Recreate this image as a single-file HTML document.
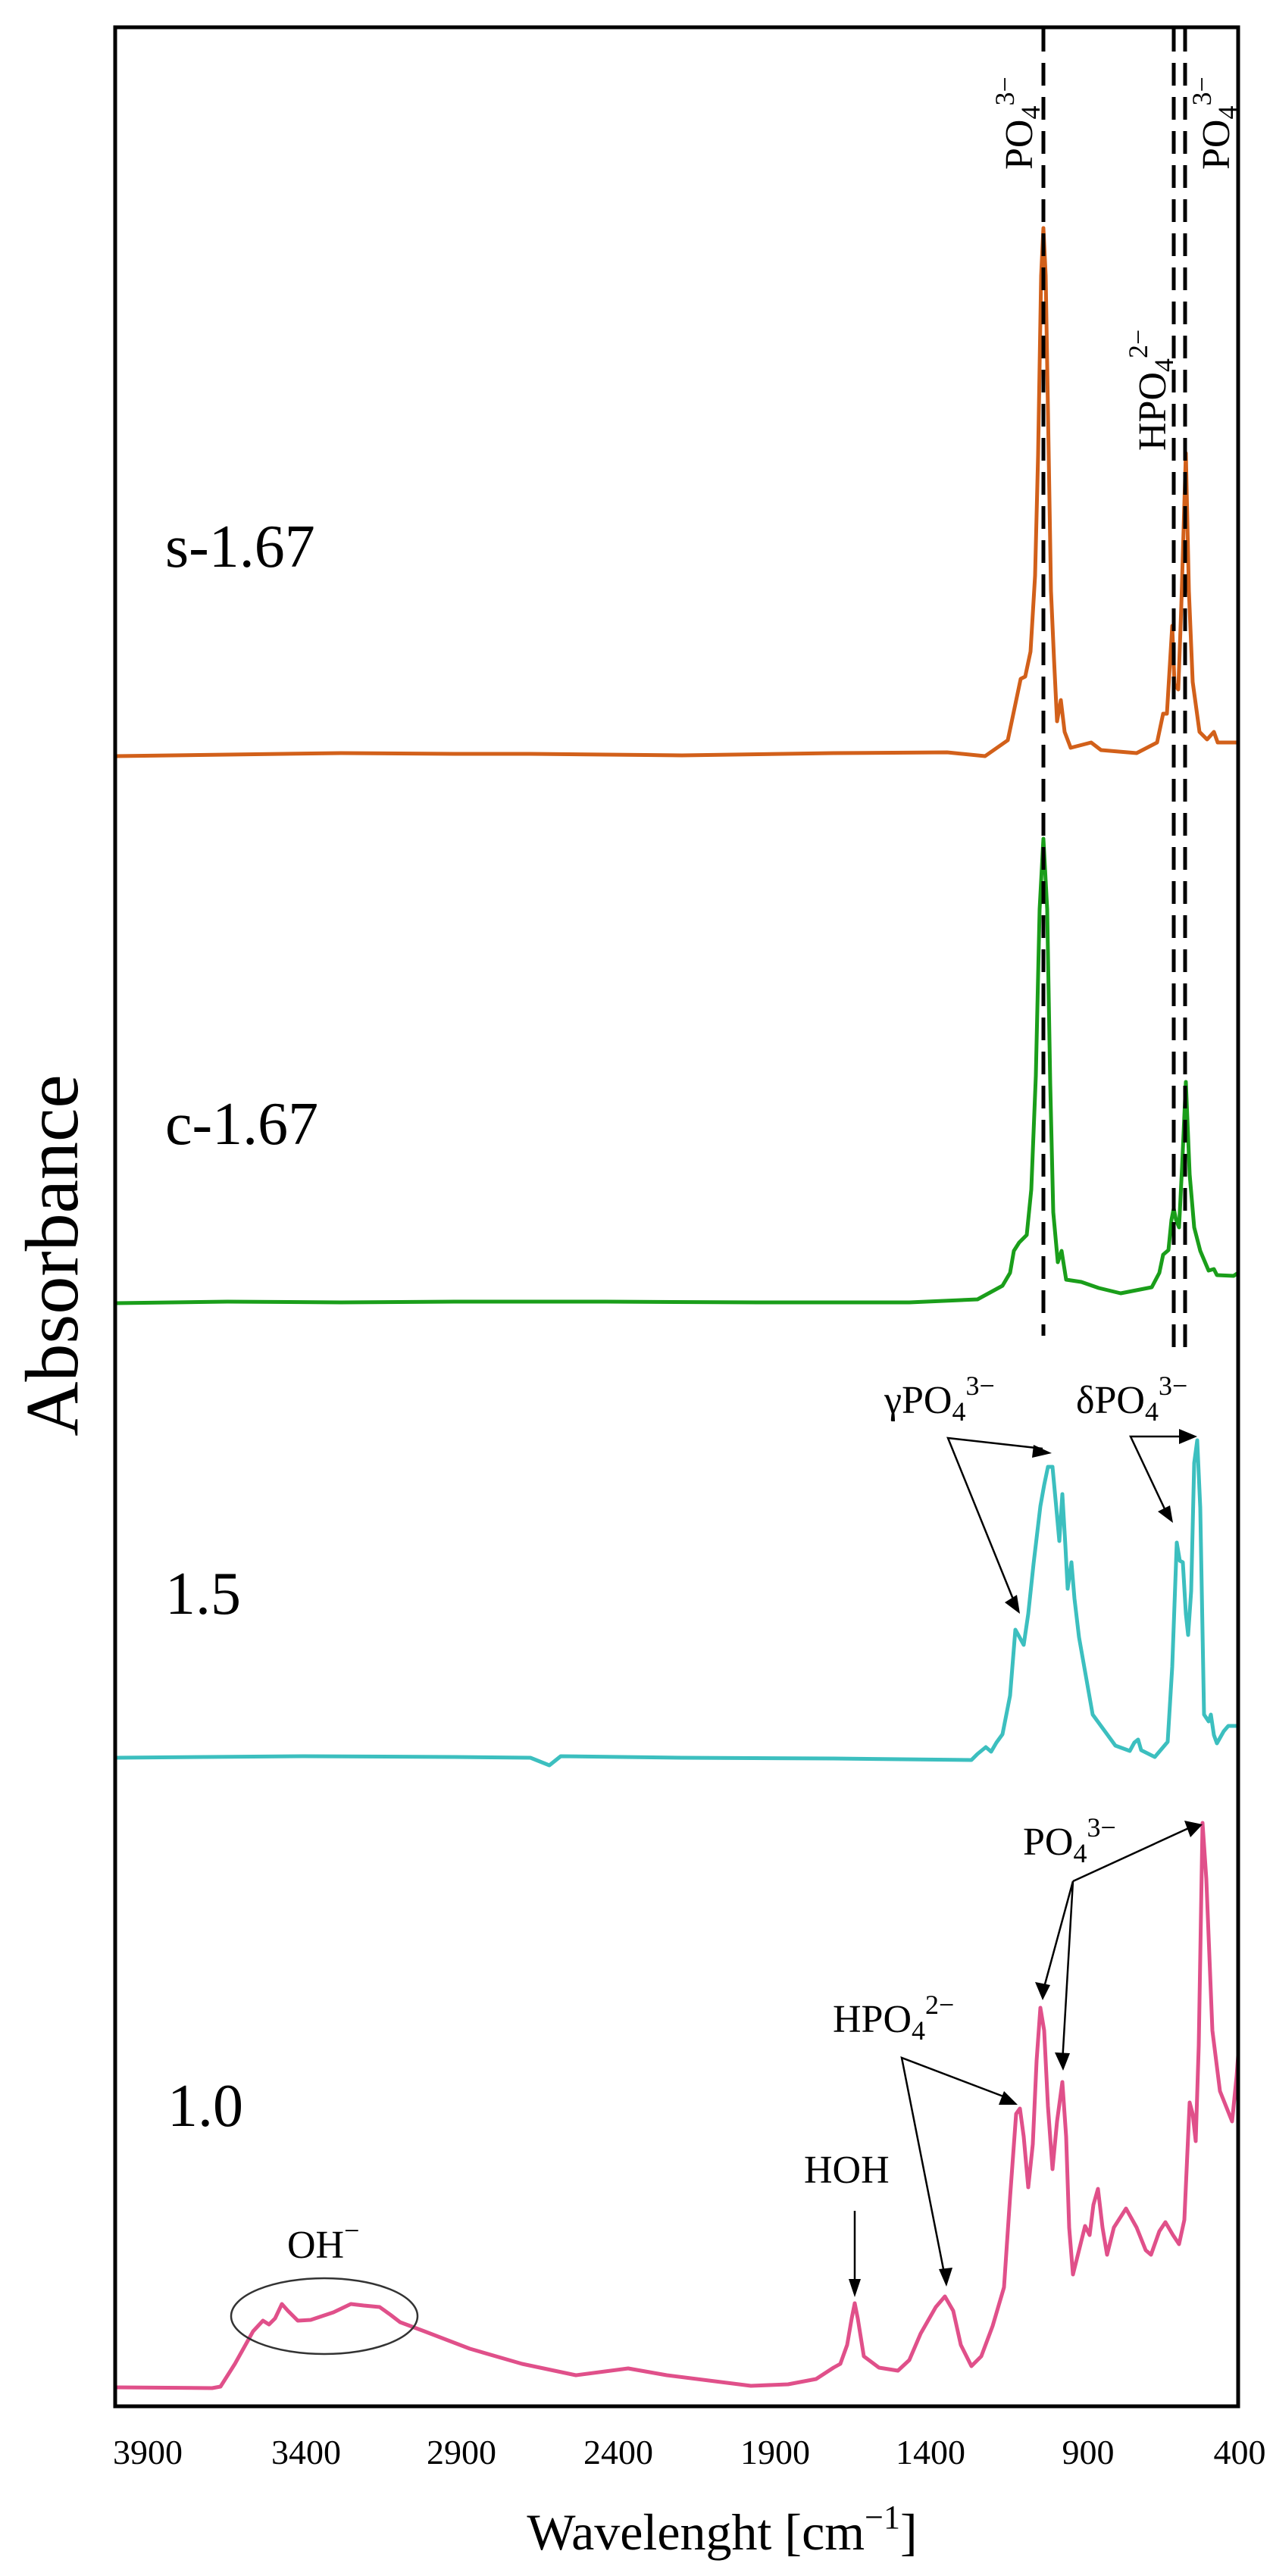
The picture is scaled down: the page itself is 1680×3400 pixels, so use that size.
<!DOCTYPE html>
<html><head><meta charset="utf-8"><style>html,body{margin:0;padding:0;background:#fff}svg{display:block}</style></head>
<body>
<svg width="1680" height="3400" viewBox="0 0 1680 3400" xmlns="http://www.w3.org/2000/svg" font-family="'Liberation Serif', serif" fill="#000">
<rect x="0" y="0" width="1680" height="3400" fill="#fff"/>
<g fill="none" stroke-linejoin="round" stroke-width="5">
<polyline stroke="#d2601a" points="153,998 300,996 450,994 600,995 700,995 900,997 1100,994 1250,993 1300,998 1330,977 1347,896 1353,893 1360,860 1366,760 1370,600 1374,364 1377,301 1380,364 1384,600 1387,780 1391,870 1395,952 1400,924 1405,966 1413,987 1440,980 1453,990 1500,994 1527,980 1535,942 1540,942 1547,826 1550,903 1555,910 1559,800 1565,598 1569,780 1574,900 1583,966 1593,976 1602,966 1607,980 1634,980"/>
<polyline stroke="#1a9e1a" points="153,1720 300,1718 450,1719 600,1718 800,1718 1000,1719 1200,1719 1290,1715 1323,1697 1333,1680 1338,1651 1345,1640 1355,1630 1361,1570 1367,1420 1372,1200 1377,1107 1382,1200 1386,1430 1390,1600 1396,1666 1401,1651 1407,1689 1427,1692 1450,1700 1479,1707 1520,1699 1530,1680 1535,1656 1542,1650 1546,1610 1549,1595 1552,1610 1556,1620 1560,1540 1565,1428 1570,1550 1576,1620 1584,1651 1595,1677 1602,1675 1606,1683 1628,1684 1634,1680"/>
<polyline stroke="#3cbfbf" points="153,2320 400,2318 600,2319 700,2320 725,2330 740,2318 900,2320 1100,2321 1282,2323 1290,2315 1301,2306 1308,2312 1315,2300 1323,2289 1333,2238 1340,2151 1345,2160 1351,2171 1357,2130 1364,2064 1373,1988 1378,1960 1383,1936 1389,1936 1394,1990 1398,2034 1402,1972 1406,2040 1409,2097 1414,2062 1418,2110 1424,2161 1442,2263 1472,2304 1491,2311 1497,2300 1502,2296 1506,2310 1524,2319 1541,2299 1547,2200 1553,2036 1557,2060 1561,2062 1565,2130 1568,2158 1572,2100 1576,1931 1580,1901 1584,1990 1589,2263 1595,2272 1598,2263 1602,2290 1606,2301 1615,2285 1621,2278 1634,2278"/>
<polyline stroke="#e0508a" points="153,3151 280,3152 291,3150 310,3120 334,3077 347,3063 355,3068 363,3060 372,3041 380,3050 393,3063 410,3062 440,3052 463,3041 480,3043 501,3045 515,3055 528,3065 560,3077 620,3100 689,3120 760,3135 829,3126 880,3135 991,3149 1040,3147 1077,3140 1100,3125 1109,3120 1118,3095 1124,3060 1128,3040 1132,3060 1140,3110 1160,3125 1185,3129 1200,3115 1215,3080 1235,3045 1247,3031 1258,3050 1268,3095 1282,3123 1295,3110 1310,3070 1325,3019 1333,2900 1341,2790 1346,2783 1351,2820 1357,2887 1363,2830 1368,2720 1373,2650 1378,2680 1383,2780 1389,2863 1395,2800 1402,2748 1407,2820 1411,2940 1416,3002 1424,2970 1432,2938 1438,2950 1443,2910 1449,2889 1455,2940 1461,2976 1470,2940 1486,2915 1500,2940 1512,2970 1519,2976 1530,2945 1538,2933 1548,2950 1556,2962 1563,2930 1570,2775 1574,2790 1578,2826 1582,2700 1587,2406 1592,2480 1600,2680 1610,2760 1626,2800 1632,2740 1634,2713"/>
</g>
<g stroke="#000" stroke-width="5" stroke-dasharray="30 15" fill="none">
<line x1="1377" y1="38" x2="1377" y2="1763"/>
<line x1="1549" y1="38" x2="1549" y2="1784"/>
<line x1="1564" y1="38" x2="1564" y2="1784"/>
</g>
<rect x="152" y="36" width="1482" height="3140" fill="none" stroke="#000" stroke-width="5"/>
<ellipse cx="428" cy="3057" rx="123" ry="50" fill="none" stroke="#333" stroke-width="2.5"/>
<g stroke="#000" stroke-width="2.5" fill="none">
<polyline points="1376,2630 1416,2483 1402,2722"/>
<line x1="1416" y1="2483" x2="1575" y2="2410"/>
<line x1="1128" y1="2918" x2="1128" y2="3020"/>
<polyline points="1332,2770 1190,2716 1247,3005"/>
<polyline points="1376,1912 1251,1898 1340,2118"/>
<polyline points="1570,1896 1492,1896 1541,2000"/>
</g>
<g fill="#000">
<polygon points="1587,2408 1563,2403 1571,2425"/>
<polygon points="1376,2640 1366,2616 1386,2620"/>
<polygon points="1403,2733 1392,2709 1412,2710"/>
<polygon points="1128,3032 1120,3008 1136,3008"/>
<polygon points="1249,3018 1239,2995 1257,2993"/>
<polygon points="1343,2778 1325,2760 1318,2778"/>
<polygon points="1388,1918 1364,1907 1362,1924"/>
<polygon points="1346,2130 1326,2115 1342,2105"/>
<polygon points="1580,1896 1556,1886 1556,1906"/>
<polygon points="1548,2010 1528,1995 1544,1987"/>
</g>
<g font-size="52">
<text x="1167" y="1865">γPO<tspan font-size="36" dy="10">4</tspan><tspan font-size="36" dy="-34">3−</tspan></text>
<text x="1420" y="1865">δPO<tspan font-size="36" dy="10">4</tspan><tspan font-size="36" dy="-34">3−</tspan></text>
<text x="1350" y="2448">PO<tspan font-size="36" dy="10">4</tspan><tspan font-size="36" dy="-34">3−</tspan></text>
<text x="1099" y="2682">HPO<tspan font-size="36" dy="10">4</tspan><tspan font-size="36" dy="-34">2−</tspan></text>
<text x="1061" y="2881">HOH</text>
<text x="379" y="2980">OH<tspan font-size="36" dy="-24">−</tspan></text>
<text transform="translate(1362,224) rotate(-90)">PO<tspan font-size="36" dy="10">4</tspan><tspan font-size="36" dy="-34">3−</tspan></text>
<text transform="translate(1538,595) rotate(-90)">HPO<tspan font-size="36" dy="10">4</tspan><tspan font-size="36" dy="-34">2−</tspan></text>
<text transform="translate(1622,224) rotate(-90)">PO<tspan font-size="36" dy="10">4</tspan><tspan font-size="36" dy="-34">3−</tspan></text>
</g>
<g font-size="80">
<text x="218" y="748">s-1.67</text>
<text x="218" y="1510">c-1.67</text>
<text x="218" y="2130">1.5</text>
<text x="221" y="2806">1.0</text>
</g>
<g font-size="46" text-anchor="middle">
<text x="195" y="3252">3900</text>
<text x="404" y="3252">3400</text>
<text x="609" y="3252">2900</text>
<text x="816" y="3252">2400</text>
<text x="1023" y="3252">1900</text>
<text x="1228" y="3252">1400</text>
<text x="1436" y="3252">900</text>
<text x="1636" y="3252">400</text>
</g>
<text x="953" y="3365" font-size="68" text-anchor="middle">Wavelenght [cm<tspan font-size="44" dy="-28">−1</tspan><tspan dy="28">]</tspan></text>
<text transform="translate(102,1657) rotate(-90)" font-size="100" text-anchor="middle">Absorbance</text>
</svg>
</body></html>
